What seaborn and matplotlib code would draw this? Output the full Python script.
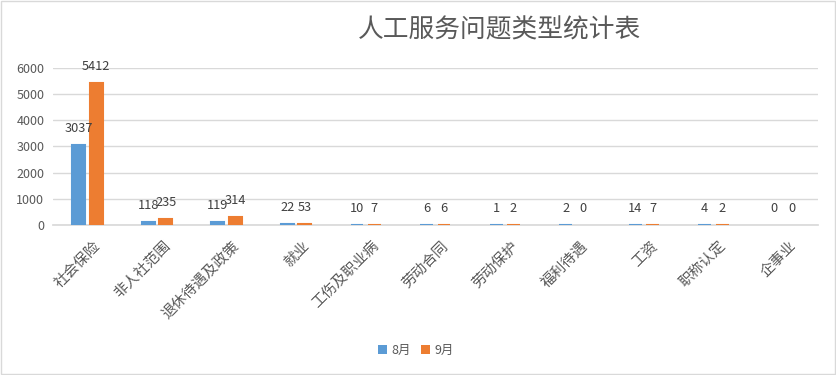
import matplotlib
matplotlib.use("Agg")
import matplotlib.pyplot as plt
import matplotlib.transforms as mtransforms
import seaborn as sns
import pandas as pd
from matplotlib.patches import Patch, Rectangle

categories = ["社会保险", "非人社范围", "退休待遇及政策", "就业", "工伤及职业病", "劳动合同",
              "劳动保护", "福利待遇", "工资", "职称认定", "企事业"]
aug = [3037, 118, 119, 22, 10, 6, 1, 2, 14, 4, 0]
sep = [5412, 235, 314, 53, 7, 6, 2, 0, 7, 2, 0]
series_names = ["8月", "9月"]
yticks = [0, 1000, 2000, 3000, 4000, 5000, 6000]
title = "人工服务问题类型统计表"

sns.set_theme(style="white")
plt.rcParams['font.family'] = ['Noto Sans CJK SC', 'DejaVu Sans']

df = pd.DataFrame({
    "类别": categories * 2,
    "数量": aug + sep,
    "月份": [series_names[0]] * len(aug) + [series_names[1]] * len(sep),
})

colors = ["#5B9BD5", "#ED7D31"]
txt = "#595959"

fig = plt.figure(figsize=(8.37, 3.75), dpi=100)
ax = fig.add_axes([0.063, 0.4, 0.914, 0.419])
sns.barplot(data=df, x="类别", y="数量", hue="月份", palette=colors,
            width=0.5, gap=0.26, ax=ax, legend=False, saturation=1, errorbar=None)

# make very small (non-zero) bars visible as thin lines, like the reference
for cont, c in zip(ax.containers, colors):
    for bar in cont:
        if bar.get_height() > 0:
            bar.set_edgecolor(c)
            bar.set_linewidth(1.5)
        else:
            bar.set_linewidth(0)

ax.set_ylim(0, 6000)
ax.set_yticks(yticks)
ax.set_yticklabels([str(v) for v in yticks], fontsize=9, color=txt)
ax.yaxis.grid(True, color="#d9d9d9", linewidth=1)
ax.set_axisbelow(True)
for s in ["top", "right", "left"]:
    ax.spines[s].set_visible(False)
ax.spines["bottom"].set_color("#d9d9d9")
ax.spines["bottom"].set_zorder(0)
ax.tick_params(axis="both", length=0, pad=6)
ax.set_xlabel("")
ax.set_ylabel("")
ax.set_xlim(-0.5, len(categories) - 0.5)
ax.set_xticks(range(len(categories)))
ax.set_xticklabels(categories, rotation=45, ha="right", va="top",
                   rotation_mode="anchor", fontsize=10.5, color=txt)
ax.tick_params(axis="x", pad=10)
offset = mtransforms.ScaledTranslation(6 / 100, 0, fig.dpi_scale_trans)
for lab in ax.get_xticklabels():
    lab.set_transform(lab.get_transform() + offset)

for cont in ax.containers:
    for bar in cont:
        h = bar.get_height()
        ax.annotate(f"{int(h)}", (bar.get_x() + bar.get_width() / 2, h),
                    xytext=(0, 10), textcoords="offset pixels",
                    ha="center", va="bottom", fontsize=9.2, color="#404040")

fig.text(0.5965, 0.92, title, ha="center", va="center", fontsize=18.5, color=txt)

handles = [Patch(facecolor=c, edgecolor="none") for c in colors]
fig.legend(handles, series_names, loc="center", bbox_to_anchor=(0.497, 0.066), ncol=2,
           frameon=False, fontsize=9, handlelength=0.7, handleheight=0.7,
           handletextpad=0.4, columnspacing=0.8, labelcolor=txt)

fig.patches.append(Rectangle((0.001, 0.002), 0.997, 0.995, transform=fig.transFigure,
                             fill=False, edgecolor="#d9d9d9", linewidth=1))

fig.savefig("out.png", dpi=100)
